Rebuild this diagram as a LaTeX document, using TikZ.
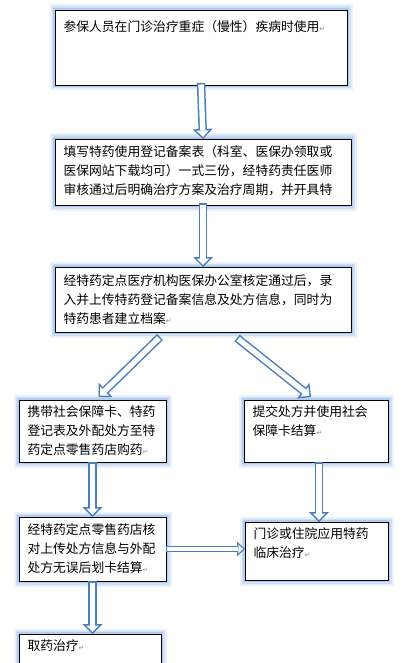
\documentclass[tikz,border=0pt]{standalone}
\usepackage{fontspec}
\setmainfont{Noto Sans CJK SC}
\newfontfamily\markfont{DejaVu Sans}
\usetikzlibrary{arrows.meta}
\definecolor{arrowcolor}{RGB}{74,126,187}
\definecolor{glowcolor}{RGB}{150,186,232}
\colorlet{bordercolor}{black}
\colorlet{markcolor}{black!45}
\newcommand\retmark{{\markfont\fontsize{7}{7}\selectfont\textcolor{markcolor}{↵}}}
\tikzset{stepbox/.style={draw=bordercolor, line width=0.9pt, fill=white, anchor=north west, inner xsep=8.5pt, outer sep=0pt,%
        preaction={draw=glowcolor, line width=11pt, draw opacity=0.2},%
        preaction={draw=glowcolor, line width=7pt, draw opacity=0.32},%
        preaction={draw=glowcolor, line width=3.5pt, draw opacity=0.5}},%
    conn/.style={draw=arrowcolor, line width=8.4pt, -{Triangle[width=20pt, length=10pt, line width=0pt]},%
        postaction={draw=white, line width=5.4pt, shorten <=1.5pt, shorten >=2.1pt,%
            -{Triangle[width=12.8pt, length=6.4pt, line width=0pt]}}},%
    smallconn/.style={draw=arrowcolor, line width=6.6pt, -{Triangle[width=15pt, length=8pt, line width=0pt]},%
        postaction={draw=white, line width=4pt, shorten <=1.3pt, shorten >=1.9pt,%
            -{Triangle[width=9pt, length=4.8pt, line width=0pt]}}}%
}

\begin{document}
\begin{tikzpicture}[x=1pt, y=-1pt]
    \useasboundingbox (0,0) rectangle (405,663);
    \begin{scope} %draw boxes
        \foreach \nodename/\xpos/\ypos/\boxw/\boxh/\pad/\content in {%
                b1/55/10/292/75/11/{参保人员在门诊治疗重症（慢性）疾病时使用\retmark},
                b2/55/139/296/66/7/{填写特药使用登记备案表（科室、医保办领取或\\医保网站下载均可）一式三份，经特药责任医师\\审核通过后明确治疗方案及治疗周期，并开具特},
                b3/55/267/296/65/8/{经特药定点医疗机构医保办公室核定通过后，录\\入并上传特药登记备案信息及处方信息，同时为\\特药患者建立档案\retmark},
                b4/19/400/147/62/6/{携带社会保障卡、特药\\登记表及外配处方至特\\药定点零售药店购药\retmark},
                b5/244/400/144/62/6/{提交处方并使用社会\\保障卡结算\retmark},
                b6/19/517/147/64/7/{经特药定点零售药店核\\对上传处方信息与外配\\处方无误后划卡结算\retmark},
                b7/245/522/143/58/6/{门诊或住院应用特药\\临床治疗\retmark},
                b8/19/634/142/45/6/{取药治疗\retmark}
            } {
            \pgfmathsetmacro\innerh{\boxh-2*\pad}
            \pgfmathsetmacro\innerw{\boxw-17}
            \node[stepbox, inner ysep=\pad pt] (\nodename) at (\xpos,\ypos)
                {\parbox[t][\innerh pt][t]{\innerw pt}{\raggedright\fontsize{12.8}{18.8}\selectfont \content}};
        }
    \end{scope}
    \begin{scope} %draw connections
        \draw[conn] ([yshift=2pt]b1.south) -- (b2.north);
        \draw[conn] ([yshift=2pt]b2.south) -- (b3.north);
        \draw[conn] ([xshift=-43pt, yshift=-5pt]b3.south) -- ([xshift=6pt, yshift=3pt]b4.north);
        \draw[conn] ([xshift=34pt, yshift=-6pt]b3.south) -- ([xshift=-5pt, yshift=3pt]b5.north);
        \draw[conn] (b4.south) -- (b6.north);
        \draw[conn] ([xshift=3pt]b5.south) -- ([xshift=3pt]b5.south |- b7.north);
        \draw[smallconn] (b6.east) -- (b6.east -| b7.west);
        \draw[conn] (b6.south) -- (b6.south |- b8.north);
    \end{scope}
\end{tikzpicture}
\end{document}
